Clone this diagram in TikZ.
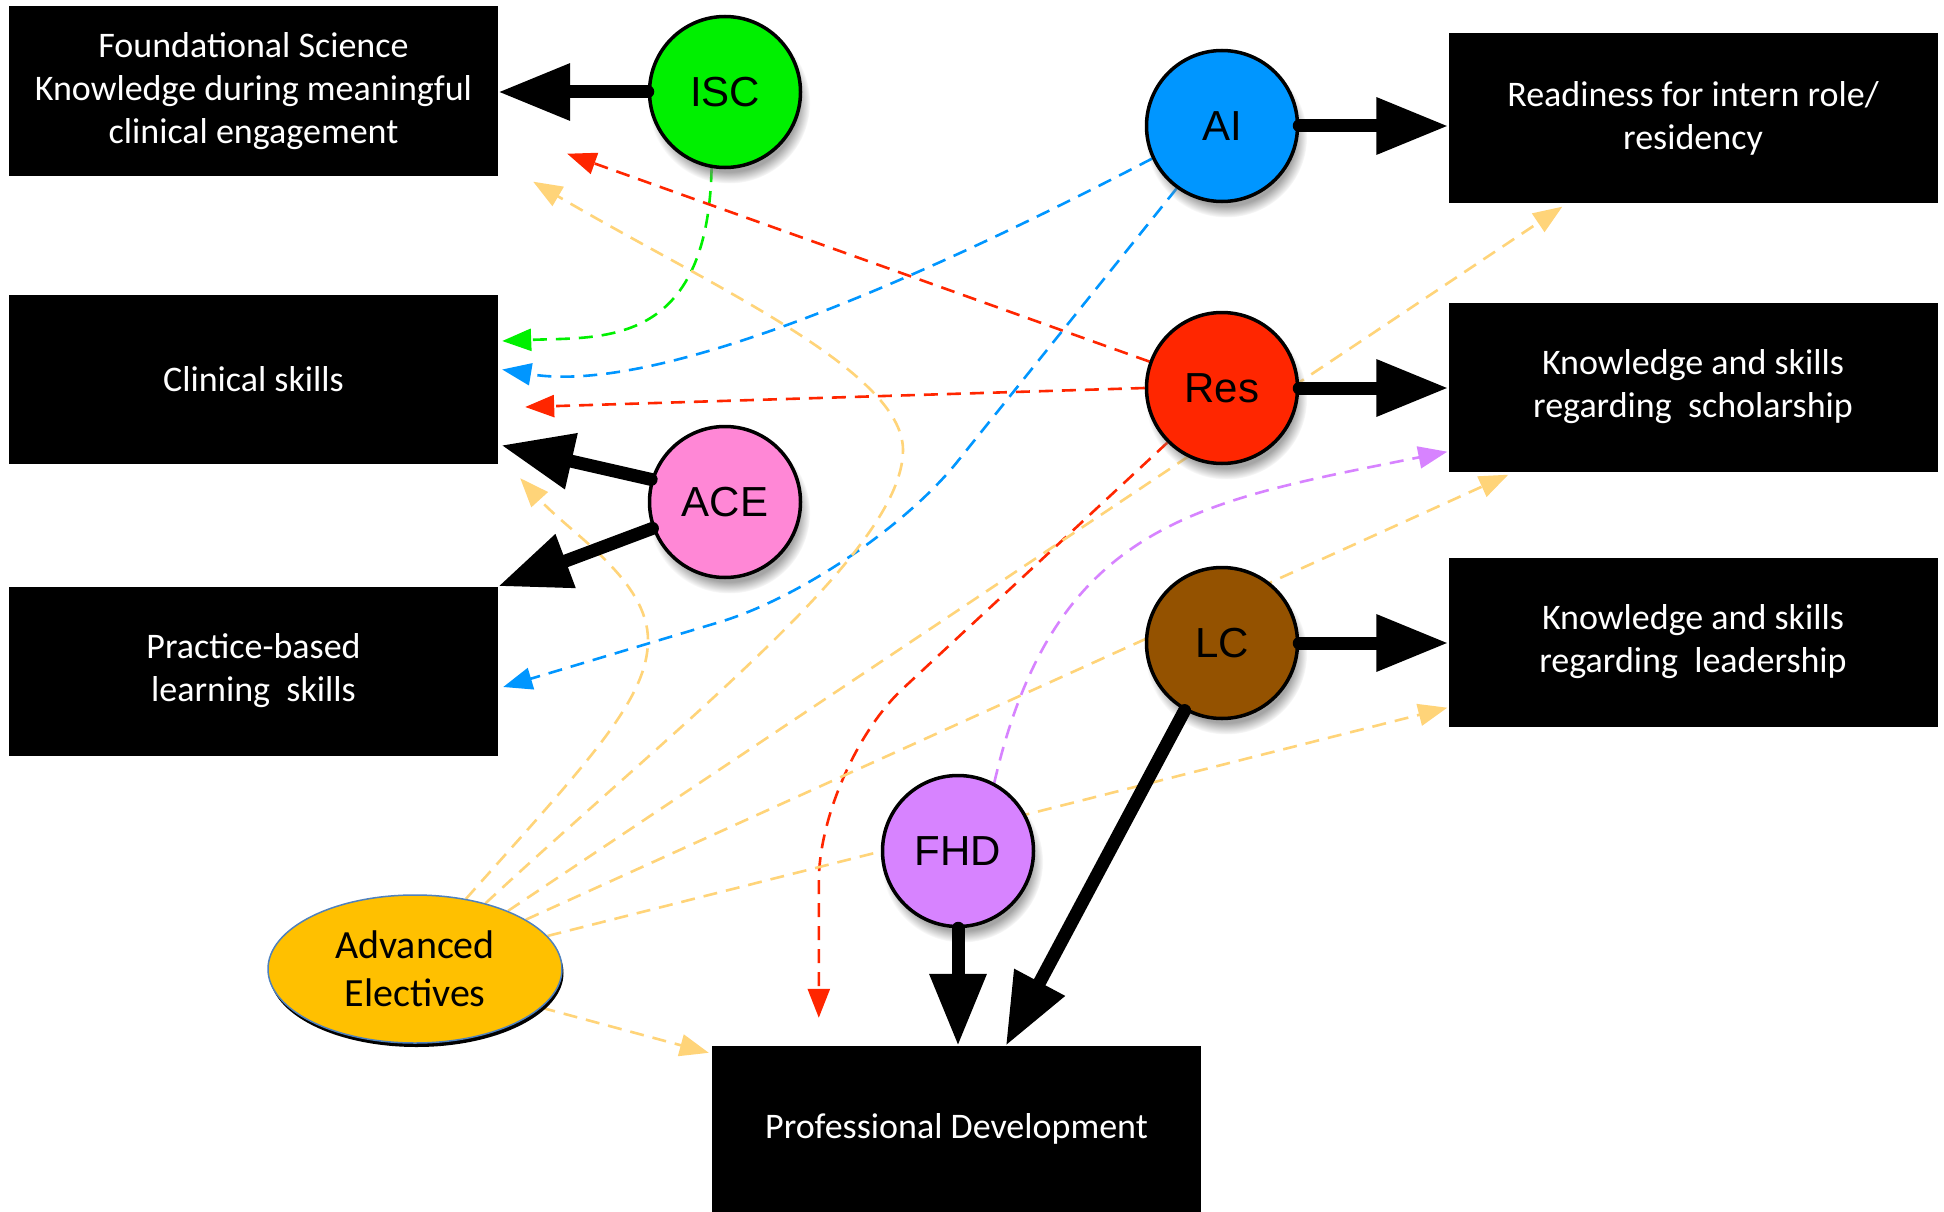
\documentclass[tikz,border=0pt]{standalone}
\usepackage{fontspec}
\setmainfont{Carlito}
\newfontfamily\helv{Liberation Sans}
\usetikzlibrary{arrows.meta,calc,shadows,shapes.geometric}
\definecolor{iscgreen}{RGB}{0,240,0}
\definecolor{aiblue}{RGB}{0,150,255}
\definecolor{resred}{RGB}{255,38,0}
\definecolor{acepink}{RGB}{255,135,214}
\definecolor{lcbrown}{RGB}{148,82,0}
\definecolor{fhdpurple}{RGB}{215,131,255}
\definecolor{aeyellow}{RGB}{255,192,0}
\definecolor{aeblue}{RGB}{79,129,189}
\definecolor{lightorange}{RGB}{255,212,121}
\pgfdeclarelayer{back}
\pgfdeclarelayer{lines}
\pgfsetlayers{back,lines,main}
\tikzset{
  outbox/.style={fill=black, text=white, minimum width=489pt, minimum height=169pt,
    inner sep=0pt, align=center, font=\fontsize{36}{43}\selectfont},
  hub/.style={circle, draw=black, line width=3.5pt, minimum size=151pt, inner sep=0pt,
    font=\helv\fontsize{42}{50}\selectfont,
    circular drop shadow={shadow xshift=4pt, shadow yshift=-10pt, shadow scale=1.07, opacity=0.7}},
  bigarrow/.style={line width=13pt, line cap=round, -{Triangle[length=72pt,width=54pt]}},
  link/.style={line width=2.6pt, dash pattern=on 14pt off 9pt, -{Triangle[length=29pt,width=22pt]}},
}
\begin{document}
\begin{tikzpicture}[x=1pt,y=1pt]
\useasboundingbox (0,0) rectangle (1944,-1212);
\begin{pgfonlayer}{back}
  \fill[white] (0,0) rectangle (1944,-1212);
\end{pgfonlayer}

% outcome boxes
\node[outbox] (found) at (253.5,-91) {Foundational Science\\Knowledge during meaningful\\clinical engagement};
\node[outbox] (clin) at (253.5,-379.5) {Clinical skills};
\node[outbox] (prac) at (253.5,-671) {Practice-based\\learning\ \ skills};
\node[outbox] (ready) at (1693,-118) {Readiness for intern role/\\residency};
\node[outbox] (schol) at (1693,-387) {Knowledge and skills\\regarding\ \ scholarship};
\node[outbox] (lead) at (1693,-642) {Knowledge and skills\\regarding\ \ leadership};
\node[outbox, minimum height=166pt] (prof) at (956.5,-1129) {Professional Development};

% course circles
\node[hub, fill=iscgreen] (isc) at (725,-92) {ISC};
\node[hub, fill=aiblue] (ai) at (1222,-126) {AI};
\node[hub, fill=resred] (res) at (1222,-388) {Res};
\node[hub, fill=acepink] (ace) at (725,-502) {ACE};
\node[hub, fill=lcbrown] (lc) at (1222,-643) {LC};
\node[hub, fill=fhdpurple] (fhd) at (958,-851) {FHD};
\node[ellipse, fill=aeyellow, draw=aeblue, line width=1.5pt, minimum width=294pt,
  minimum height=148pt, inner sep=0pt, align=center, font=\fontsize{40}{48}\selectfont,
  drop shadow={shadow xshift=1.5pt, shadow yshift=-4pt, opacity=1, fill=black}]
  (ae) at (415,-969) {Advanced\\Electives};

% dashed links (behind the circles)
\begin{pgfonlayer}{lines}
  \draw[link, iscgreen] (isc.260) .. controls +(-4,-180) and +(100,4) .. ($(clin.east)+(4,38.5)$);
  \draw[link, aiblue] (ai.205) .. controls +(-250,-130) and +(150,-25) .. ($(clin.east)+(4,10)$);
  \draw[link, aiblue, rounded corners=150pt] (ai.234) -- ($(prac.east)+(365,92)$) -- ($(prac.east)+(5,-16)$);
  \draw[link, resred] (res.160) -- ($(found.south east)+(69,22)$);
  \draw[link, resred] (res.west) -- ($(clin.east)+(27,-27.5)$);
  \draw[link, resred, rounded corners=115pt] (res.225) -- ($(prof.north west)+(107,279)$) -- ($(prof.north west)+(107,28)$);
  \draw[link, fhdpurple] (fhd.62) .. controls +(60,260) and +(-250,-50) .. ($(schol.south west)+(-1,20)$);
  % Advanced Electives links
  \draw[link, lightorange] (ae.54) .. controls +(120,135) and +(0,-60) .. ($(ace.center)+(-77,-138)$)
     .. controls +(0,60) and +(50,-55) .. ($(clin.south east)+(22,-14)$);
  \draw[link, lightorange] (ae.43) .. controls +(200,185) and +(0,-100) .. ($(ace.center)+(178,52)$)
     .. controls +(0,80) and +(172,-101.5) .. ($(found.south east)+(35,-6)$);
  \draw[link, lightorange] (ae.32) -- ($(ready.south west)+(114,-4)$);
  \draw[link, lightorange] (ae.24) -- ($(schol.south west)+(60,-3)$);
  \draw[link, lightorange] (ae.14) -- ($(lead.south west)+(-1,19)$);
  \draw[link, lightorange] (ae.-17) -- ($(prof.north west)+(-3,-7)$);
\end{pgfonlayer}

% thick arrows
\draw[bigarrow] (isc.west) -- (isc.west -| found.east);
\draw[bigarrow] (ai.east) -- (ai.east -| ready.west);
\draw[bigarrow] (res.east) -- (res.east -| schol.west);
\draw[bigarrow] (lc.east) -- (lc.east -| lead.west);
\draw[bigarrow] (ace.163) -- ($(clin.south east)+(3,19)$);
\draw[bigarrow] (ace.200) -- (prac.north east);
\draw[bigarrow] (fhd.south) -- (fhd.south |- prof.north);
\draw[bigarrow] (lc.241) -- ($(prof.north west)+(294,0)$);
\end{tikzpicture}
\end{document}
